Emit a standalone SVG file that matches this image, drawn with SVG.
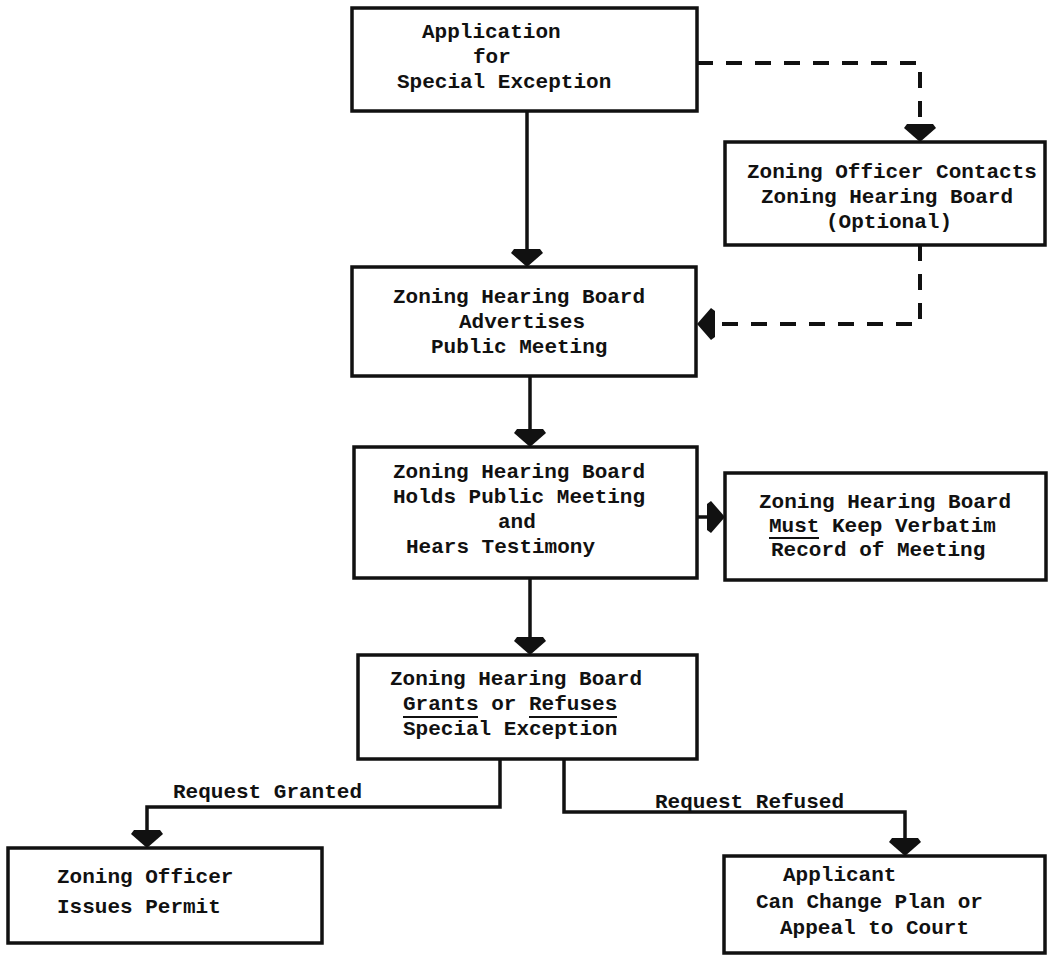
<svg xmlns="http://www.w3.org/2000/svg" width="1049" height="957" viewBox="0 0 1049 957">
<style>
.box{fill:#fff;stroke:#111;stroke-width:3.5}
.t{font-family:"Liberation Mono","Courier New",monospace;font-size:21px;font-weight:bold;fill:#111}
.c{fill:none;stroke:#111;stroke-width:3.5}
.d{fill:none;stroke:#111;stroke-width:4;stroke-dasharray:16 13}
.u{stroke:#111;stroke-width:2}
</style>
<defs>
<marker id="ah" viewBox="0 0 18 34" refX="8" refY="17" markerWidth="18" markerHeight="34" markerUnits="userSpaceOnUse" orient="auto">
<path d="M0,4 L4,1 L18,17 L4,33 L0,30 Z" fill="#111"/>
</marker>
</defs>
<rect width="1049" height="957" fill="#fff"/>
<g id="connectors">
<path class="d" d="M697,63 H920 V132" marker-end="url(#ah)"/>
<path class="d" d="M920,245 V324 H707" marker-end="url(#ah)"/>
<path class="c" d="M527,111 V257" marker-end="url(#ah)"/>
<path class="c" d="M530,376 V437" marker-end="url(#ah)"/>
<path class="c" d="M697,517 H715" marker-end="url(#ah)"/>
<path class="c" d="M530,578 V645" marker-end="url(#ah)"/>
<path class="c" d="M500,759 V807 H147 V838" marker-end="url(#ah)"/>
<path class="c" d="M564,759 V812 H905 V846" marker-end="url(#ah)"/>
<text class="t" x="173" y="798">Request Granted</text>
<text class="t" x="655" y="808">Request Refused</text>
</g>
<g id="n1">
<rect class="box" x="352" y="8" width="345" height="103"/>
<text class="t" x="422" y="38">Application</text>
<text class="t" x="473" y="63">for</text>
<text class="t" x="397" y="88">Special Exception</text>
</g>
<g id="n2">
<rect class="box" x="725" y="142" width="320" height="103"/>
<text class="t" x="747" y="178">Zoning Officer Contacts</text>
<text class="t" x="761" y="203">Zoning Hearing Board</text>
<text class="t" x="826" y="228">(Optional)</text>
</g>
<g id="n3">
<rect class="box" x="352" y="267" width="344" height="109"/>
<text class="t" x="393" y="303">Zoning Hearing Board</text>
<text class="t" x="459" y="328">Advertises</text>
<text class="t" x="431" y="353">Public Meeting</text>
</g>
<g id="n4">
<rect class="box" x="354" y="447" width="343" height="131"/>
<text class="t" x="393" y="478">Zoning Hearing Board</text>
<text class="t" x="393" y="503">Holds Public Meeting</text>
<text class="t" x="498" y="528">and</text>
<text class="t" x="406" y="553">Hears Testimony</text>
</g>
<g id="n5">
<rect class="box" x="725" y="473" width="321" height="107"/>
<text class="t" x="759" y="508">Zoning Hearing Board</text>
<text class="t" x="769" y="532">Must Keep Verbatim</text>
<line class="u" x1="769" y1="538" x2="819" y2="538"/>
<text class="t" x="771" y="556">Record of Meeting</text>
</g>
<g id="n6">
<rect class="box" x="358" y="655" width="339" height="104"/>
<text class="t" x="390" y="685">Zoning Hearing Board</text>
<text class="t" x="403" y="710">Grants or Refuses</text>
<line class="u" x1="403" y1="717" x2="478" y2="717"/>
<line class="u" x1="529" y1="717" x2="617" y2="717"/>
<text class="t" x="403" y="735">Special Exception</text>
</g>
<g id="n7">
<rect class="box" x="8" y="848" width="314" height="95"/>
<text class="t" x="57" y="883">Zoning Officer</text>
<text class="t" x="57" y="913">Issues Permit</text>
</g>
<g id="n8">
<rect class="box" x="724" y="856" width="321" height="97"/>
<text class="t" x="783" y="881">Applicant</text>
<text class="t" x="756" y="908">Can Change Plan or</text>
<text class="t" x="780" y="934">Appeal to Court</text>
</g>
</svg>
